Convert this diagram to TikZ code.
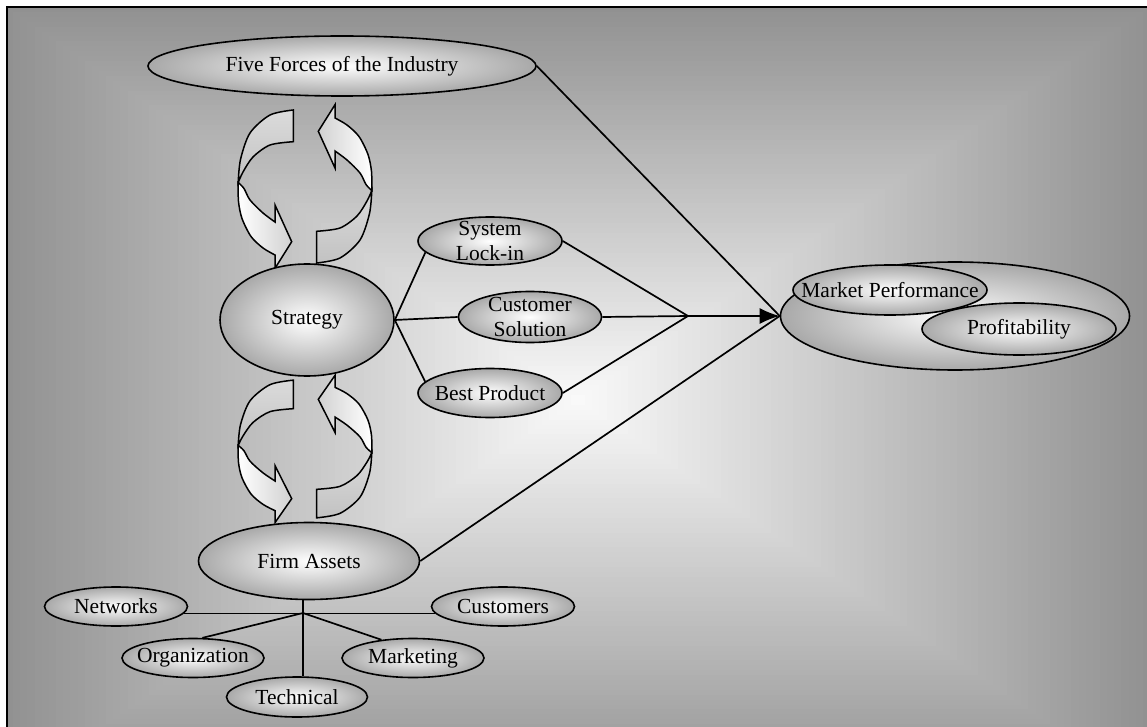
\documentclass[tikz,border=0pt]{standalone}
\usepackage{fontspec}
\setmainfont{Liberation Serif}
\usetikzlibrary{shapes.geometric,arrows.meta}

\tikzset{
  oval/.style={ellipse, draw, line width=1.6pt, inner sep=-60pt, align=center,
    inner color=white, outer color=black!34,
    font=\fontsize{21.5}{25.5}\selectfont},
  link/.style={line width=1.7pt},
  ribbon/.style={draw, line width=1.5pt},
}

% one curved block arrow of a cycle pair, centred on the local origin
% #1, #2: left and right shading colours of the light lobe
\newcommand\cyclearrow[2]{%
  \path[ribbon, top color=black!14, bottom color=black!24]
    plot[smooth] coordinates {(-11.7,-76.5) (-35,-71.5) (-55,-53.5) (-64.5,-27) (-66.8,-4)}
    -- plot[smooth] coordinates {(-66.8,-4) (-62,-14.5) (-52,-29.5) (-35,-41.5) (-11.7,-44.8)}
    -- cycle;
  \path[ribbon, left color=#1, right color=#2]
    plot[smooth] coordinates {(-66.8,-4) (-66.5,15) (-63,32) (-54,50) (-42,61.5) (-30,68.5)}
    -- (-30,81.8) -- (-13.3,55.2) -- (-30,18.5) -- (-30,35.5)
    -- plot[smooth] coordinates {(-30,35.5) (-42,26.5) (-55,13.5) (-61,2) (-66.8,-4)}
    -- cycle;
}

\begin{document}
\begin{tikzpicture}[x=1pt,y=-1pt]
\useasboundingbox (0,0) rectangle (1147,727);
\fill[white] (0,0) rectangle (1147,727);

% rectangular grey-to-white background gradient
\begin{scope}
  \clip (7.7,7.7) rectangle (1147,727);
  \foreach \i in {0,...,79}{
    \pgfmathsetmacro\s{1-\i/80}
    \pgfmathsetmacro\p{2+41*\s}
    \pgfmathsetmacro\xa{578-572*\s}
    \pgfmathsetmacro\xb{578+572*\s}
    \pgfmathsetmacro\ya{400-393*\s}
    \pgfmathsetmacro\yb{400+393*\s}
    \fill[black!\p] (\xa,\ya) rectangle (\xb,\yb);
  }
\end{scope}
\draw[line width=2pt] (1147,6.7) -- (6.7,6.7) -- (6.7,727);

% cycle arrows between the levels
\begin{scope}[shift={(305,186.5)}]
  \cyclearrow{white}{black!18}
  \begin{scope}[rotate=180]\cyclearrow{black!18}{white}\end{scope}
\end{scope}
\begin{scope}[shift={(305,449)}, yscale=0.9]
  \cyclearrow{white}{black!18}
  \begin{scope}[rotate=180]\cyclearrow{black!18}{white}\end{scope}
\end{scope}

% ovals
\node[oval, minimum width=388pt, minimum height=60pt] (ff) at (342,66) {Five Forces of the Industry};
\node[oval, minimum width=174pt, minimum height=112pt] (st) at (307,320) {Strategy};
\node[oval, minimum width=144pt, minimum height=48pt] (sl) at (490,241) {System\\Lock-in};
\node[oval, minimum width=143pt, minimum height=51pt] (cs) at (530,317) {Customer\\Solution};
\node[oval, minimum width=144pt, minimum height=49pt] (bp) at (490,393) {Best Product};
\node[oval, minimum width=221pt, minimum height=77pt] (fa) at (309,561) {Firm Assets};
\node[oval, minimum width=143pt, minimum height=39pt] (nw) at (116,606.5) {Networks};
\node[oval, minimum width=143pt, minimum height=39pt] (cu) at (503,606.5) {Customers};
\node[oval, minimum width=142pt, minimum height=39pt] (og) at (193,658) {Organization};
\node[oval, minimum width=142pt, minimum height=39pt] (mk) at (413,658) {Marketing};
\node[oval, minimum width=141pt, minimum height=40pt] (te) at (297,697) {Technical};
\node[oval, minimum width=349pt, minimum height=108pt] (mp) at (955,316) {};
\node[oval, minimum width=194pt, minimum height=50pt] (mperf) at (890,290) {Market Performance};
\node[oval, minimum width=194pt, minimum height=52pt] (prof) at (1019,329) {Profitability};

% connectors
\coordinate (jn) at (688,316);
\coordinate (fj) at (303,613);
\draw[link] (st.east) -- (sl.190);
\draw[link] (st.east) -- (cs.west);
\draw[link] (st.east) -- (bp.170);
\draw[link] (sl.east) -- (jn);
\draw[link] (cs.east) -- (jn);
\draw[link] (bp.east) -- (jn);
\draw[link, -{Latex[length=20pt,width=16pt]}] (jn) -- (mp.west);
\draw[link] (ff.east) -- (mp.west);
\draw[link] (fa.east) -- (mp.west);
\draw[link] (nw.-6) -- (cu.186);
\draw[link] (fj |- fa.south) -- (fj |- te.north);
\draw[link] (fj) -- (og.65);
\draw[link] (fj) -- (mk.150);
\end{tikzpicture}
\end{document}
